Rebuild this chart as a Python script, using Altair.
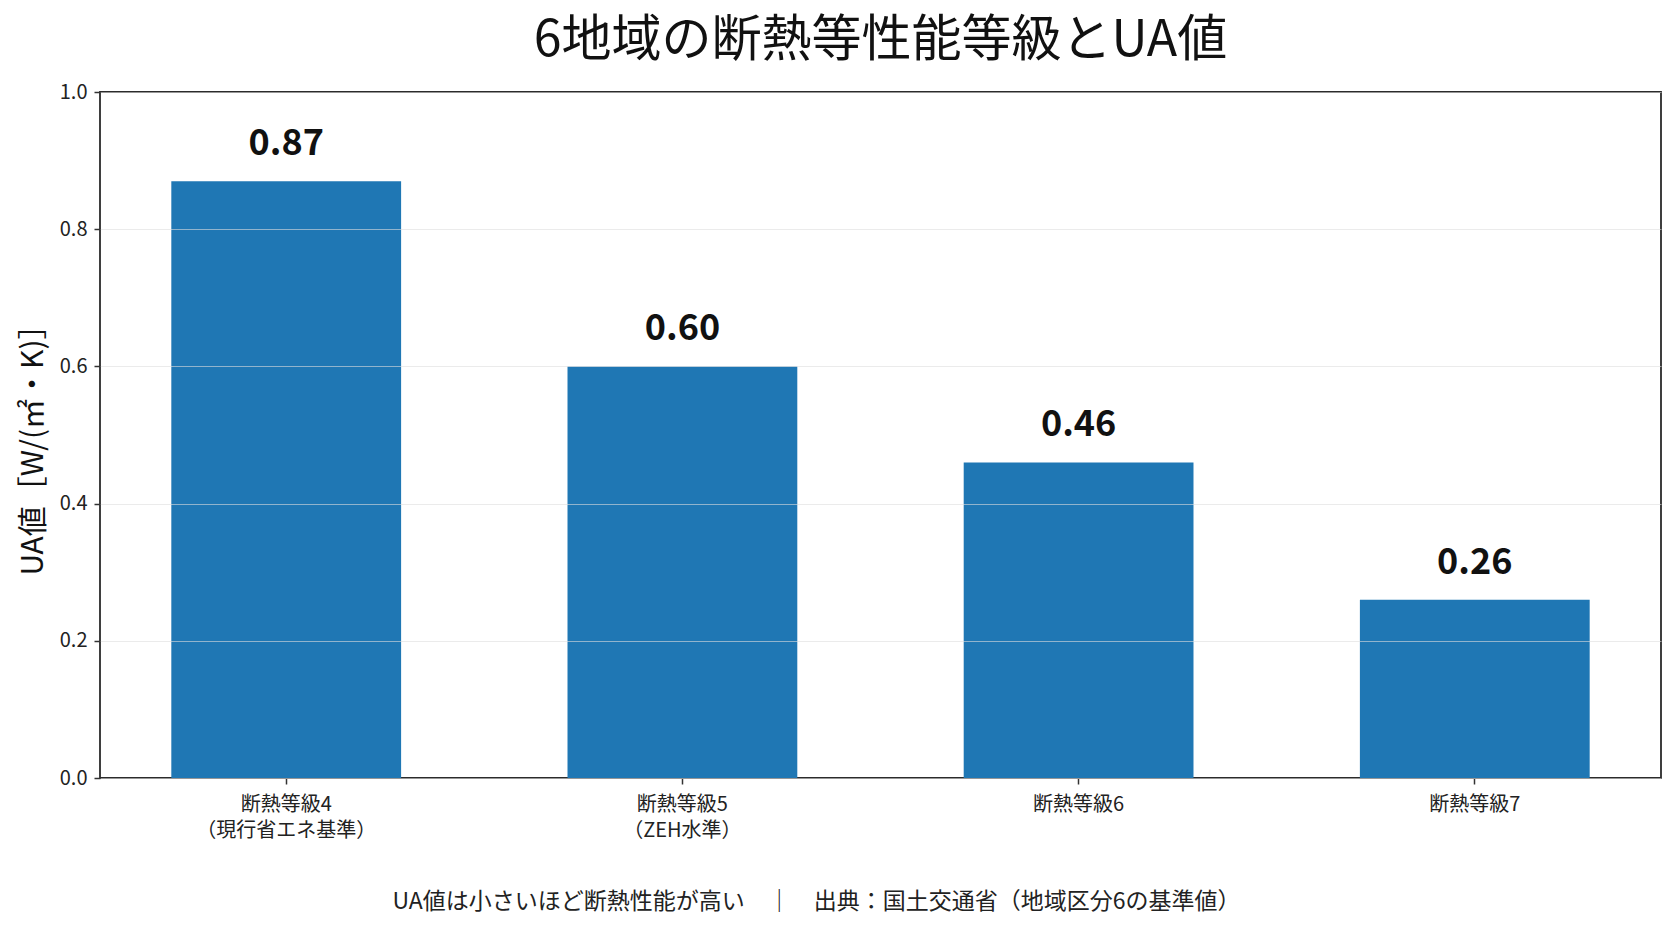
import altair as alt
import pandas as pd

categories = ["断熱等級4\n（現行省エネ基準）", "断熱等級5\n（ZEH水準）", "断熱等級6", "断熱等級7"]
ua_values = [0.87, 0.60, 0.46, 0.26]
value_labels = ["0.87", "0.60", "0.46", "0.26"]
y_ticks = [0.0, 0.2, 0.4, 0.6, 0.8, 1.0]

title_text = "6地域の断熱等性能等級とUA値"
y_title = "UA値［W/(㎡・K)］"
footer_text = "UA値は小さいほど断熱性能が高い　｜　出典：国土交通省（地域区分6の基準値）"

df = pd.DataFrame({"cat": categories, "ua": ua_values, "label": value_labels})

FONT = "Noto Sans CJK JP"

x_enc = alt.X(
    "cat:N",
    sort=categories,
    scale=alt.Scale(paddingInner=0.42, paddingOuter=0.18),
    axis=alt.Axis(
        title=footer_text,
        titleFont=FONT,
        titleFontSize=23,
        titleFontWeight="normal",
        titleColor="#222222",
        titleX=716,
        titleY=123,
        titleAlign="center",
        titleBaseline="middle",
        labelExpr="split(datum.label, '\\n')",
        labelAngle=0,
        labelFont=FONT,
        labelFontSize=20,
        labelColor="#222222",
        labelLineHeight=26,
        labelPadding=10,
        labelBaseline="top",
        tickSize=6,
        tickColor="#333333",
        tickWidth=1.5,
        domain=False,
        grid=False,
    ),
)

y_enc = alt.Y(
    "ua:Q",
    scale=alt.Scale(domain=[0, 1.0], nice=False, zero=True),
    axis=alt.Axis(
        title=y_title,
        titleFont=FONT,
        titleFontSize=30,
        titleFontWeight="normal",
        titleColor="#111111",
        titleAngle=-90,
        titleX=-67,
        titleY=350,
        titleAlign="center",
        titleBaseline="middle",
        values=y_ticks,
        format=".1f",
        labelFont=FONT,
        labelFontSize=20,
        labelColor="#222222",
        labelPadding=7,
        tickSize=6,
        tickColor="#333333",
        tickWidth=1.5,
        domain=False,
        grid=True,
        gridColor="#dedede",
        gridOpacity=0.6,
        gridWidth=1,
        zindex=1,
    ),
)

base = alt.Chart(df)

bars = base.mark_bar(color="#1f77b4").encode(x=x_enc, y=y_enc)

texts = base.mark_text(
    font=FONT,
    fontSize=36,
    fontWeight="bold",
    color="#111111",
    baseline="alphabetic",
    dy=-26,
).encode(x=alt.X("cat:N", sort=categories), y=alt.Y("ua:Q"), text="label:N")

chart = (
    alt.layer(bars, texts)
    .properties(
        width=1561,
        height=686,
        background="white",
        title=alt.TitleParams(
            text=title_text,
            font=FONT,
            fontSize=50,
            fontWeight="normal",
            color="#111111",
            anchor="middle",
            offset=16,
        ),
        autosize=alt.AutoSizeParams(type="none"),
        padding={"left": 92, "top": 84, "right": 8, "bottom": 142},
    )
    .configure_view(stroke="#2b2b2b", strokeWidth=1.8)
)

chart.save("out.html", embed_options={"renderer": "svg", "actions": False})
